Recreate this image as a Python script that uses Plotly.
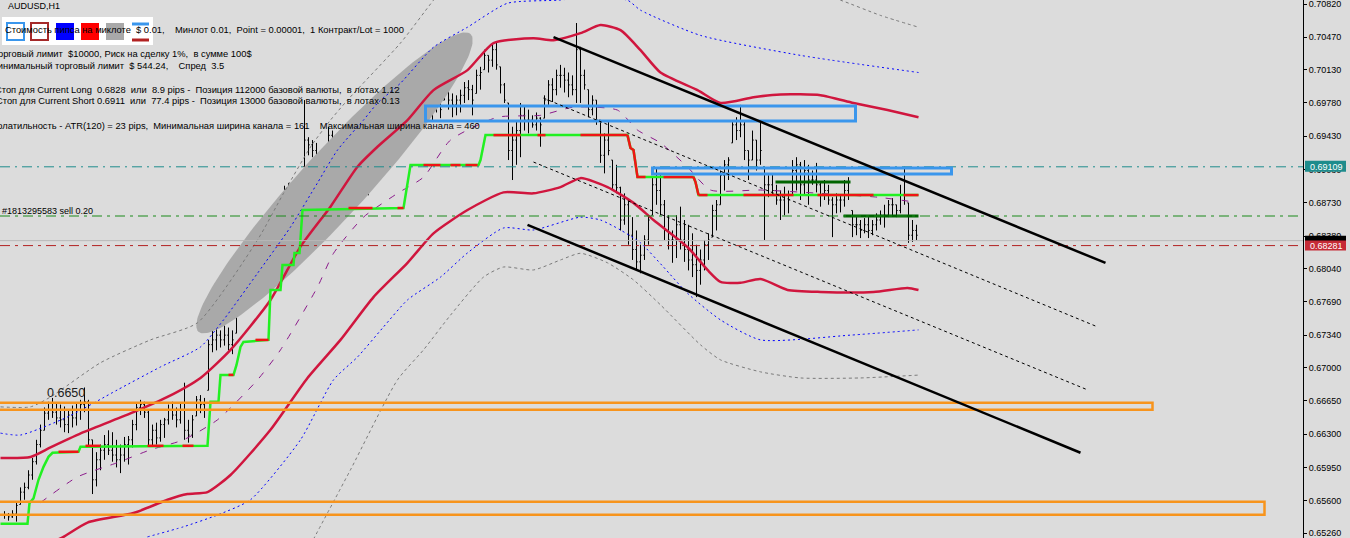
import numpy as np
import plotly.graph_objects as go

# ---------------- data ----------------
SYMBOL = "AUDUSD,H1"

BAR_HIGH = [
    0.6549, 0.6547, 0.6550, 0.6558, 0.6574, 0.6579, 0.6592, 0.6605, 0.6624, 0.6640,
    0.6658, 0.6664, 0.6668, 0.6663, 0.6661, 0.6659, 0.6655, 0.6660, 0.6662, 0.6666,
    0.6679, 0.6666, 0.6624, 0.6611, 0.6619, 0.6629, 0.6634, 0.6632, 0.6624, 0.6619,
    0.6627, 0.6628, 0.6645, 0.6663, 0.6666, 0.6664, 0.6655, 0.6640, 0.6642, 0.6645,
    0.6647, 0.6661, 0.6664, 0.6658, 0.6662, 0.6684, 0.6645, 0.6650, 0.6670, 0.6671,
    0.6668, 0.6729, 0.6739, 0.6742, 0.6739, 0.6744, 0.6742, 0.6739, 0.6778, 0.6797,
    0.6802, 0.6805, 0.6810, 0.6807, 0.6802, 0.6809, 0.6811, 0.6834, 0.6865, 0.6869,
    0.6891, 0.6894, 0.6895, 0.6897, 0.6896, 0.6981, 0.6942, 0.6939, 0.6936, 0.6904,
    0.6911, 0.6953, 0.6949, 0.6944, 0.6939, 0.6934, 0.6936, 0.6915, 0.6913, 0.6907,
    0.6902, 0.6910, 0.6934, 0.6981, 0.6955, 0.6949, 0.6953, 0.6947, 0.6952, 0.6965,
    0.6971, 0.7007, 0.7013, 0.7002, 0.6997, 0.6992, 0.6984, 0.6981, 0.6982, 0.6978,
    0.7002, 0.6994, 0.6988, 0.6986, 0.6992, 0.7000, 0.7002, 0.6997, 0.7013, 0.7016,
    0.7034, 0.7028, 0.7039, 0.7041, 0.7016, 0.6999, 0.6978, 0.6953, 0.6960, 0.6978,
    0.6974, 0.6971, 0.6965, 0.6968, 0.6963, 0.6986, 0.7002, 0.7004, 0.7013, 0.7018,
    0.7015, 0.7010, 0.7007, 0.7062, 0.7037, 0.7013, 0.6992, 0.6986, 0.6981, 0.6960,
    0.6946, 0.6960, 0.6918, 0.6913, 0.6890, 0.6883, 0.6876, 0.6858, 0.6844, 0.6829,
    0.6839, 0.6860, 0.6900, 0.6910, 0.6902, 0.6876, 0.6860, 0.6844, 0.6860, 0.6869,
    0.6855, 0.6850, 0.6841, 0.6829, 0.6824, 0.6834, 0.6841, 0.6871, 0.6876, 0.6907,
    0.6918, 0.6921, 0.6960, 0.6963, 0.6976, 0.6960, 0.6928, 0.6949, 0.6939, 0.6957,
    0.6911, 0.6902, 0.6904, 0.6892, 0.6886, 0.6890, 0.6886, 0.6918, 0.6921, 0.6916,
    0.6918, 0.6913, 0.6907, 0.6915, 0.6895, 0.6897, 0.6892, 0.6879, 0.6883, 0.6881,
    0.6897, 0.6900, 0.6865, 0.6858, 0.6855, 0.6857, 0.6858, 0.6855, 0.6862, 0.6865,
    0.6871, 0.6876, 0.6878, 0.6871, 0.6892, 0.6911, 0.6873, 0.6855, 0.6850,
]
BAR_LOW = [
    0.6541, 0.6539, 0.6542, 0.6538, 0.6556, 0.6561, 0.6572, 0.6582, 0.6598, 0.6616,
    0.6634, 0.6645, 0.6647, 0.6640, 0.6637, 0.6632, 0.6631, 0.6637, 0.6639, 0.6645,
    0.6653, 0.6617, 0.6567, 0.6575, 0.6592, 0.6603, 0.6608, 0.6601, 0.6595, 0.6589,
    0.6601, 0.6598, 0.6616, 0.6634, 0.6650, 0.6647, 0.6617, 0.6617, 0.6619, 0.6622,
    0.6626, 0.6640, 0.6645, 0.6637, 0.6641, 0.6624, 0.6621, 0.6626, 0.6649, 0.6652,
    0.6647, 0.6676, 0.6716, 0.6718, 0.6721, 0.6723, 0.6718, 0.6714, 0.6736, 0.6773,
    0.6779, 0.6784, 0.6788, 0.6781, 0.6775, 0.6789, 0.6790, 0.6792, 0.6834, 0.6844,
    0.6865, 0.6871, 0.6876, 0.6884, 0.6883, 0.6911, 0.6923, 0.6921, 0.6897, 0.6876,
    0.6855, 0.6897, 0.6928, 0.6923, 0.6918, 0.6915, 0.6911, 0.6894, 0.6892, 0.6886,
    0.6879, 0.6881, 0.6907, 0.6932, 0.6934, 0.6931, 0.6939, 0.6928, 0.6934, 0.6932,
    0.6944, 0.6965, 0.6971, 0.6960, 0.6953, 0.6955, 0.6965, 0.6960, 0.6968, 0.6962,
    0.6981, 0.6971, 0.6963, 0.6965, 0.6968, 0.6978, 0.6981, 0.6965, 0.6988, 0.6992,
    0.7013, 0.7010, 0.7016, 0.7013, 0.6988, 0.6978, 0.6918, 0.6897, 0.6913, 0.6921,
    0.6949, 0.6946, 0.6952, 0.6949, 0.6932, 0.6962, 0.6976, 0.6979, 0.6986, 0.6994,
    0.6989, 0.6984, 0.6986, 0.6978, 0.6978, 0.6992, 0.6963, 0.6965, 0.6955, 0.6915,
    0.6904, 0.6923, 0.6886, 0.6883, 0.6844, 0.6850, 0.6829, 0.6813, 0.6802, 0.6799,
    0.6813, 0.6829, 0.6860, 0.6871, 0.6860, 0.6834, 0.6824, 0.6810, 0.6815, 0.6824,
    0.6811, 0.6802, 0.6795, 0.6774, 0.6787, 0.6802, 0.6813, 0.6837, 0.6844, 0.6871,
    0.6886, 0.6897, 0.6936, 0.6939, 0.6942, 0.6918, 0.6897, 0.6918, 0.6907, 0.6913,
    0.6834, 0.6879, 0.6881, 0.6871, 0.6855, 0.6860, 0.6862, 0.6881, 0.6886, 0.6876,
    0.6881, 0.6871, 0.6892, 0.6884, 0.6869, 0.6876, 0.6871, 0.6837, 0.6862, 0.6863,
    0.6869, 0.6876, 0.6837, 0.6839, 0.6836, 0.6841, 0.6836, 0.6839, 0.6844, 0.6850,
    0.6847, 0.6858, 0.6860, 0.6858, 0.6862, 0.6871, 0.6831, 0.6832, 0.6834,
]
BAR_CLOSE = [
    0.6545, 0.6543, 0.6546, 0.6555, 0.6569, 0.6574, 0.6587, 0.6601, 0.6619, 0.6634,
    0.6652, 0.6655, 0.6653, 0.6647, 0.6645, 0.6640, 0.6650, 0.6647, 0.6655, 0.6661,
    0.6664, 0.6624, 0.6582, 0.6603, 0.6613, 0.6619, 0.6613, 0.6608, 0.6603, 0.6608,
    0.6619, 0.6624, 0.6640, 0.6658, 0.6661, 0.6653, 0.6624, 0.6634, 0.6626, 0.6640,
    0.6645, 0.6655, 0.6650, 0.6645, 0.6655, 0.6634, 0.6629, 0.6645, 0.6666, 0.6661,
    0.6655, 0.6724, 0.6729, 0.6734, 0.6729, 0.6734, 0.6724, 0.6729, 0.6773, 0.6787,
    0.6792, 0.6787, 0.6802, 0.6787, 0.6792, 0.6802, 0.6802, 0.6829, 0.6855, 0.6863,
    0.6884, 0.6881, 0.6892, 0.6892, 0.6889, 0.6939, 0.6934, 0.6928, 0.6902, 0.6886,
    0.6902, 0.6944, 0.6939, 0.6934, 0.6928, 0.6920, 0.6913, 0.6907, 0.6897, 0.6892,
    0.6886, 0.6902, 0.6928, 0.6949, 0.6944, 0.6939, 0.6944, 0.6939, 0.6944, 0.6960,
    0.6965, 0.6997, 0.6992, 0.6981, 0.6971, 0.6981, 0.6976, 0.6973, 0.6976, 0.6971,
    0.6992, 0.6981, 0.6976, 0.6981, 0.6986, 0.6994, 0.6992, 0.6981, 0.7007, 0.7010,
    0.7028, 0.7023, 0.7034, 0.7018, 0.6997, 0.6981, 0.6928, 0.6939, 0.6949, 0.6965,
    0.6960, 0.6960, 0.6955, 0.6962, 0.6955, 0.6981, 0.6997, 0.6992, 0.7007, 0.7007,
    0.7002, 0.6997, 0.6992, 0.7034, 0.7007, 0.6997, 0.6971, 0.6981, 0.6960, 0.6923,
    0.6939, 0.6928, 0.6892, 0.6889, 0.6855, 0.6871, 0.6839, 0.6824, 0.6811, 0.6818,
    0.6834, 0.6855, 0.6892, 0.6886, 0.6871, 0.6844, 0.6834, 0.6834, 0.6850, 0.6834,
    0.6824, 0.6813, 0.6808, 0.6802, 0.6813, 0.6829, 0.6834, 0.6865, 0.6871, 0.6902,
    0.6913, 0.6918, 0.6955, 0.6949, 0.6955, 0.6928, 0.6918, 0.6939, 0.6918, 0.6928,
    0.6892, 0.6892, 0.6886, 0.6876, 0.6876, 0.6881, 0.6876, 0.6907, 0.6913, 0.6892,
    0.6907, 0.6897, 0.6897, 0.6892, 0.6881, 0.6886, 0.6876, 0.6871, 0.6876, 0.6876,
    0.6886, 0.6881, 0.6850, 0.6850, 0.6844, 0.6850, 0.6844, 0.6850, 0.6855, 0.6860,
    0.6860, 0.6871, 0.6871, 0.6865, 0.6881, 0.6881, 0.6839, 0.6844, 0.6839,
]

# envelope / channel indicator lines (bar index, price)
UPPER_BAND_X = [-1, 6.5, 11.5, 19.75, 32.25, 40.75, 49, 56.5, 66.5, 74, 81.5, 88.25, 93.25, 100.75,
                107.25, 115.75, 122.25, 132.25, 137.25, 144, 149, 154, 159, 164, 173.25, 179,
                187.25, 194, 204, 212.25, 220.75, 228.5]
UPPER_BAND_Y = [0.6605, 0.6606, 0.6616, 0.6632, 0.6653, 0.6669, 0.6689, 0.67185, 0.6771, 0.6827,
                0.6869, 0.6911, 0.6932, 0.6960, 0.69915, 0.70125, 0.7041, 0.7046, 0.7044, 0.70514,
                0.70598, 0.70545, 0.70335, 0.7010, 0.69915, 0.6978, 0.6984, 0.6987, 0.69862,
                0.6978, 0.69705, 0.6963]
LOWER_BAND_X = [12.75, 14.75, 20.75, 32.25, 40.75, 45.75, 50.75, 56.5, 66.5, 75.75, 84, 92.25,
                100.75, 107.25, 115.75, 124.75, 132.25, 139, 144, 150.75, 157.25, 162.25, 170.75,
                175.75, 179, 184, 189, 195.75, 204, 217.25, 225.75, 228.5]
LOWER_BAND_Y = [0.6518, 0.6522, 0.6537, 0.6547, 0.6561, 0.6567, 0.6569, 0.6587, 0.66345, 0.6689,
                0.6729, 0.6774, 0.6810, 0.6841, 0.68655, 0.6884, 0.6883, 0.68896, 0.6899, 0.68896,
                0.6873, 0.6855, 0.68266, 0.68025, 0.6790, 0.6789, 0.6793, 0.67815, 0.67794,
                0.67794, 0.67836, 0.67815]
MID_LINE_X = [9, 18.25, 28.25, 36.5, 44.75, 53.25, 63.25, 69, 78.25, 82.25, 89.75, 98.25, 104.75,
              111.5, 123.25, 134, 142.25, 153.25, 158.25, 164, 170.75, 176.5, 189, 204, 218.25,
              227.25]
MID_LINE_Y = [0.6558, 0.6585, 0.6600, 0.66135, 0.6624, 0.6645, 0.6687, 0.67185, 0.67846, 0.6820,
              0.6858, 0.6883, 0.6900, 0.6939, 0.6963, 0.6965, 0.69736, 0.69705, 0.69495, 0.6936,
              0.69107, 0.68865, 0.68865, 0.6883, 0.6879, 0.6874]
OUTER_UP_X = [-1, 4, 15.75, 28.25, 39, 49, 54.75, 63.25, 71.5, 78.25, 83.25, 89.75, 93.25, 99,
              107.25, 115.75, 125.75, 138.25, 146.5, 155.75, 159, 174, 199, 228.5]
OUTER_UP_Y = [0.6631, 0.6629, 0.6648, 0.66765, 0.67006, 0.67216, 0.6750, 0.6799, 0.68476, 0.6894,
              0.69285, 0.6960, 0.69778, 0.69988, 0.70366, 0.70576, 0.70828, 0.7086, 0.7089,
              0.7086, 0.70755, 0.7049, 0.7028, 0.7010]
OUTER_LOW_X = [35.75, 44.75, 53.25, 61.5, 74, 82.25, 88.25, 94.75, 100.75, 109, 115.75, 124.75,
               132.25, 144, 149, 154, 159, 164.75, 170.75, 179, 189, 211.5, 228.5]
OUTER_LOW_Y = [0.6522, 0.65326, 0.6545, 0.6561, 0.6624, 0.6687, 0.6711, 0.67426, 0.6771, 0.6795,
               0.68204, 0.68466, 0.68445, 0.6858, 0.6855, 0.68445, 0.6831, 0.68056, 0.6778,
               0.6750, 0.6729, 0.6734, 0.67395]
FAR_UP_X = [-1, 6.5, 11.5, 24, 36.5, 48.25, 63.25, 69.75, 76.5, 81.5, 85.75, 99, 107.25, 111.5,
            199, 209, 219, 228.5]
FAR_UP_Y = [0.66586, 0.66586, 0.6669, 0.6705, 0.6729, 0.6747, 0.6834, 0.6883, 0.69317, 0.6960,
            0.6981, 0.7041, 0.7086, 0.7107, 0.70986, 0.7086, 0.7070, 0.70576]
FAR_LOW_X = [76.5, 86.5, 98.25, 104.75, 111.5, 119.75, 124.75, 132.25, 139, 144, 150.75, 157.25,
             164, 174, 179, 189, 199, 214, 228.5]
FAR_LOW_Y = [0.65137, 0.65925, 0.6687, 0.67185, 0.6755, 0.6795, 0.68056, 0.68025, 0.6813, 0.6820,
             0.6810, 0.6792, 0.67658, 0.67238, 0.6708, 0.66954, 0.6689, 0.6689, 0.6692]

# trailing stop (green) and its red sections
STOP_X = [-1, 5.75, 6.25, 7.25, 8.5, 9.75, 11, 12, 18.5, 19, 50.75, 51.25, 51.5, 53.5, 54, 57.25,
          58, 59, 59.75, 66, 66.5, 69, 69.5, 72.25, 72.5, 73.75, 74.5, 99.75, 101.5, 118.5, 119,
          120.25, 155.75, 156.5, 157.25, 158.25, 172.25, 172.75, 173.5, 228.5]
STOP_Y = [0.65358, 0.65358, 0.65575, 0.65625, 0.6582, 0.65956, 0.66061, 0.66103, 0.66114, 0.66166,
          0.66177, 0.6645, 0.66639, 0.66639, 0.66922, 0.66922, 0.67027, 0.67216, 0.67269, 0.6729,
          0.67815, 0.67815, 0.68077, 0.68077, 0.68203, 0.68203, 0.68655, 0.68676, 0.69127,
          0.69127, 0.6918, 0.69442, 0.69442, 0.69306, 0.69285, 0.69001, 0.69001, 0.68949,
          0.68812, 0.68812]
RED_STOP_X0 = [13.5, 20.25, 35.75, 44.5, 56, 62.75, 86, 98.25, 104.75, 111.5, 115.25, 122.25,
               133.25, 144, 164.75, 173.5, 184.75, 203.25, 224.75]
RED_STOP_X1 = [18.5, 24, 39.75, 47.25, 57.25, 66, 92, 99.75, 109, 114, 118.25, 129, 135.25,
               155.75, 172.25, 175.75, 197.25, 217.25, 228.5]
RED_STOP_LEVEL = [0.66114, 0.66177, 0.66177, 0.66177, 0.66922, 0.6729, 0.68676, 0.68676, 0.69127,
                  0.69127, 0.69127, 0.69442, 0.69442, 0.69442, 0.69001, 0.68812, 0.68812,
                  0.68812, 0.68812]
RED_DROP_1_X = [155.75, 156.5, 157.25, 158.25, 160.25]
RED_DROP_1_Y = [0.69442, 0.69306, 0.69285, 0.69001, 0.69001]
RED_DROP_2_X = [172.25, 172.75, 173.5]
RED_DROP_2_Y = [0.69001, 0.68949, 0.68812]

SR_X0 = [192.75, 209.75]
SR_X1 = [211.5, 228.5]
SR_LEVEL = [0.68949, 0.68592]

# horizontal price levels
LEVEL_RESIST = 0.69109
LEVEL_ORDER = 0.68592
LEVEL_ASK = 0.68281
LEVEL_BID = 0.68333
ORDER_TEXT = "#1813295583 sell 0.20"

# channel lines: (x0, y0, x1, y1)
CHANNEL_SOLID = [(137.25, 0.70472, 275.25, 0.68099), (130.75, 0.68498, 269, 0.66104)]
CHANNEL_DASHED = [(134.75, 0.69831, 273.25, 0.67427), (132.25, 0.69159, 270.75, 0.66765)]

# zones: (x0, x1, y_low, y_high)
BLUE_ZONES = [(105.25, 212.75, 0.69590, 0.69747), (162, 236.75, 0.69033, 0.69096)]
ORANGE_ZONES = [(-3, 287, 0.66555, 0.66629), (-3, 315, 0.65452, 0.65589)]

# gray ellipse object: two ends of major axis (bar, price)
ELLIPSE_A = (48.5, 0.67375)
ELLIPSE_B = (116.5, 0.70505)

TICK_VALUES = [0.70820, 0.70470, 0.70130, 0.69780, 0.69430, 0.69080, 0.68730, 0.68380, 0.68040,
               0.67690, 0.67340, 0.67000, 0.66650, 0.66300, 0.65950, 0.65600, 0.65260]
TICK_TEXT = ["0.70820", "0.70470", "0.70130", "0.69780", "0.69430", "0.69080", "0.68730",
             "0.68380", "0.68040", "0.67690", "0.67340", "0.67000", "0.66650", "0.66300",
             "0.65950", "0.65600", "0.65260"]

INFO_LINES = [
    "Стоимость пипса на миклоте  $ 0.01,    Минлот 0.01,  Point = 0.00001,  1 Контракт/Lot = 1000",
    "Торговый лимит  $10000, Риск на сделку 1%,  в сумме 100$",
    "Минимальный торговый лимит  $ 544.24,    Спред  3.5",
    "Стоп для Current Long  0.6828  или  8.9 pips -  Позиция 112000 базовой валюты,  в лотах 1.12",
    "Стоп для Current Short 0.6911  или  77.4 pips -  Позиция 13000 базовой валюты,  в лотах 0.13",
    "Волатильность - ATR(120) = 23 pips,  Минимальная ширина канала = 161    Максимальная ширина канала = 460",
]
PRICE_NOTE = "0.6650"

# ---------------- layout geometry ----------------
W, H = 1350, 538
PLOT_W, PLOT_H = 1303, 538
X_RANGE = [-1.125, 324.625]
Y_RANGE = [0.65208, 0.70862]
FONT = "Liberation Sans"
BG = "#DCDCDC"


def to_px(i, p):
    return ((i - X_RANGE[0]) / (X_RANGE[1] - X_RANGE[0]) * PLOT_W,
            (Y_RANGE[1] - p) / (Y_RANGE[1] - Y_RANGE[0]) * PLOT_H)


def to_data(px, py):
    return (X_RANGE[0] + px / PLOT_W * (X_RANGE[1] - X_RANGE[0]),
            Y_RANGE[1] - py / PLOT_H * (Y_RANGE[1] - Y_RANGE[0]))


def xp(px):
    return px / PLOT_W


def yp(py):
    return 1 - py / PLOT_H


fig = go.Figure()

# ellipse (background object)
ax_, ay_ = to_px(*ELLIPSE_A)
bx_, by_ = to_px(*ELLIPSE_B)
cx, cy = (ax_ + bx_) / 2, (ay_ + by_) / 2
semi_a = np.hypot(bx_ - ax_, by_ - ay_) / 2
semi_b = 33
th = np.arctan2(by_ - ay_, bx_ - ax_)
t = np.linspace(0, 2 * np.pi, 160)
ex = cx + semi_a * np.cos(t) * np.cos(th) - semi_b * np.sin(t) * np.sin(th)
ey = cy + semi_a * np.cos(t) * np.sin(th) + semi_b * np.sin(t) * np.cos(th)
ed = [to_data(a, b) for a, b in zip(ex, ey)]
fig.add_trace(go.Scatter(x=[d[0] for d in ed], y=[d[1] for d in ed], mode="lines",
                         fill="toself", fillcolor="#A9A9A9", line=dict(width=0, color="#A9A9A9"),
                         hoverinfo="skip"))


def add_line(x, y, color, width, dash="solid", shape="spline"):
    fig.add_trace(go.Scatter(x=x, y=y, mode="lines", hoverinfo="skip",
                             line=dict(color=color, width=width, dash=dash, shape=shape,
                                       smoothing=0.6 if shape == "spline" else None)))


add_line(FAR_UP_X, FAR_UP_Y, "#7A7A7A", 1, "3px,3px")
add_line(FAR_LOW_X, FAR_LOW_Y, "#7A7A7A", 1, "3px,3px")
add_line(OUTER_UP_X, OUTER_UP_Y, "#0000FF", 1, "2px,3px")
add_line(OUTER_LOW_X, OUTER_LOW_Y, "#0000FF", 1, "2px,3px")
add_line(MID_LINE_X, MID_LINE_Y, "#8B1A8B", 1, "7px,9px")
add_line(UPPER_BAND_X, UPPER_BAND_Y, "#D0163E", 2.5)
add_line(LOWER_BAND_X, LOWER_BAND_Y, "#D0163E", 2.5)

# trailing stop
add_line(STOP_X, STOP_Y, "#22F022", 2.5, shape="linear")
rx, ry = [], []
for a, b, lv in zip(RED_STOP_X0, RED_STOP_X1, RED_STOP_LEVEL):
    rx += [a, b, None]
    ry += [lv, lv, None]
rx += RED_DROP_1_X + [None] + RED_DROP_2_X
ry += RED_DROP_1_Y + [None] + RED_DROP_2_Y
fig.add_trace(go.Scatter(x=rx, y=ry, mode="lines", hoverinfo="skip",
                         line=dict(color="#F01414", width=2.5)))

# bars
opens = [BAR_CLOSE[0]] + [min(max(BAR_CLOSE[k - 1], BAR_LOW[k]), BAR_HIGH[k])
                          for k in range(1, len(BAR_CLOSE))]
fig.add_trace(go.Ohlc(x=list(range(len(BAR_CLOSE))), open=opens, high=BAR_HIGH, low=BAR_LOW,
                      close=BAR_CLOSE, tickwidth=0.3, hoverinfo="skip",
                      increasing=dict(line=dict(color="black", width=1)),
                      decreasing=dict(line=dict(color="black", width=1))))

# support/resistance segments
sx, sy = [], []
for a, b, lv in zip(SR_X0, SR_X1, SR_LEVEL):
    sx += [a, b, None]
    sy += [lv, lv, None]
fig.add_trace(go.Scatter(x=sx, y=sy, mode="lines", hoverinfo="skip",
                         line=dict(color="#006400", width=3)))

shapes = []
# horizontal levels
shapes.append(dict(type="line", xref="paper", x0=0, x1=1, yref="y", y0=LEVEL_BID, y1=LEVEL_BID,
                   line=dict(color="#B8B8B8", width=1)))
shapes.append(dict(type="line", xref="paper", x0=0, x1=1, yref="y", y0=LEVEL_RESIST, y1=LEVEL_RESIST,
                   line=dict(color="#1E8C8C", width=1, dash="10px,5px,2px,5px")))
shapes.append(dict(type="line", xref="paper", x0=0, x1=1, yref="y", y0=LEVEL_ORDER, y1=LEVEL_ORDER,
                   line=dict(color="#1A8A1A", width=1, dash="10px,5px,3px,5px")))
shapes.append(dict(type="line", xref="paper", x0=0, x1=1, yref="y", y0=LEVEL_ASK, y1=LEVEL_ASK,
                   line=dict(color="#B22222", width=1, dash="10px,5px,3px,5px")))
# zones
for x0, x1, lo, hi in BLUE_ZONES:
    shapes.append(dict(type="rect", xref="x", yref="y", x0=x0, x1=x1, y0=lo, y1=hi,
                       line=dict(color="#3A96EC", width=3)))
for x0, x1, lo, hi in ORANGE_ZONES:
    shapes.append(dict(type="rect", xref="x", yref="y", x0=x0, x1=x1, y0=lo, y1=hi,
                       line=dict(color="#F7941D", width=2.5)))
# channel lines
for x0, y0, x1, y1 in CHANNEL_SOLID:
    shapes.append(dict(type="line", xref="x", yref="y", x0=x0, y0=y0, x1=x1, y1=y1,
                       line=dict(color="black", width=2.5)))
for x0, y0, x1, y1 in CHANNEL_DASHED:
    shapes.append(dict(type="line", xref="x", yref="y", x0=x0, y0=y0, x1=x1, y1=y1,
                       line=dict(color="black", width=1, dash="3px,3px")))

# legend swatches (top-left object panel)
shapes.append(dict(type="rect", xref="paper", yref="paper", x0=xp(2), x1=xp(153), y0=yp(45), y1=yp(17),
                   fillcolor="white", line=dict(width=0)))
shapes.append(dict(type="rect", xref="paper", yref="paper", x0=xp(7), x1=xp(24), y0=yp(40), y1=yp(23),
                   line=dict(color="#3A96EC", width=2)))
shapes.append(dict(type="rect", xref="paper", yref="paper", x0=xp(31), x1=xp(48), y0=yp(40), y1=yp(23),
                   line=dict(color="#A52A2A", width=2)))
shapes.append(dict(type="rect", xref="paper", yref="paper", x0=xp(56), x1=xp(74), y0=yp(40), y1=yp(23),
                   fillcolor="#0000FF", line=dict(width=0)))
shapes.append(dict(type="rect", xref="paper", yref="paper", x0=xp(81), x1=xp(99), y0=yp(40), y1=yp(23),
                   fillcolor="#FF0000", line=dict(width=0)))
shapes.append(dict(type="rect", xref="paper", yref="paper", x0=xp(106), x1=xp(124), y0=yp(40), y1=yp(23),
                   fillcolor="#A9A9A9", line=dict(width=0)))
shapes.append(dict(type="line", xref="paper", yref="paper", x0=xp(132), x1=xp(149), y0=yp(24), y1=yp(24),
                   line=dict(color="#3A96EC", width=3)))
shapes.append(dict(type="line", xref="paper", yref="paper", x0=xp(132), x1=xp(149), y0=yp(40), y1=yp(40),
                   line=dict(color="#B22222", width=3)))

# price labels on axis
shapes.append(dict(type="rect", xref="paper", yref="paper", x0=xp(1305), x1=xp(1346),
                   y0=yp(to_px(0, LEVEL_RESIST)[1] + 5), y1=yp(to_px(0, LEVEL_RESIST)[1] - 6),
                   fillcolor="#1E8C8C", line=dict(width=0)))
shapes.append(dict(type="rect", xref="paper", yref="paper", x0=xp(1305), x1=xp(1346),
                   y0=yp(to_px(0, LEVEL_BID)[1] + 6), y1=yp(to_px(0, LEVEL_BID)[1] - 5),
                   fillcolor="#000000", line=dict(width=0)))
shapes.append(dict(type="rect", xref="paper", yref="paper", x0=xp(1305), x1=xp(1346),
                   y0=yp(to_px(0, LEVEL_ASK)[1] + 5), y1=yp(to_px(0, LEVEL_ASK)[1] - 5),
                   fillcolor="#C62B36", line=dict(width=0)))

annotations = []


def text(s, px, py, size=9, anchor="left", color="black"):
    annotations.append(dict(text=s, x=xp(px), y=yp(py), xref="paper", yref="paper",
                            xanchor=anchor, yanchor="middle", showarrow=False,
                            font=dict(family=FONT, size=size, color=color)))


text(SYMBOL, 6, 6)
line_pos = [(406, 30), (254, 54), (226, 66), (402, 90), (402, 101), (482, 126)]
for s, (px, py) in zip(INFO_LINES, line_pos):
    text(s, px, py, size=9.35, anchor="right")
text(ORDER_TEXT, 0, 211)
text(PRICE_NOTE, 45, 393, size=12.5, color="#202020")
text(f"{LEVEL_RESIST:.5f}", 1308, to_px(0, LEVEL_RESIST)[1], color="white")
text(f"{LEVEL_ASK:.5f}", 1308, to_px(0, LEVEL_ASK)[1], color="white")

fig.update_layout(
    width=W, height=H, margin=dict(l=0, r=W - PLOT_W, t=0, b=0),
    paper_bgcolor=BG, plot_bgcolor=BG, showlegend=False, hovermode=False,
    shapes=shapes, annotations=annotations,
    font=dict(family=FONT, size=9, color="black"),
    xaxis=dict(range=X_RANGE, visible=False, rangeslider=dict(visible=False), fixedrange=True),
    yaxis=dict(range=Y_RANGE, side="right", tickvals=TICK_VALUES, ticktext=TICK_TEXT,
               showgrid=False, zeroline=False, showline=True, linecolor="black", linewidth=1,
               ticks="outside", ticklen=3, tickcolor="black", ticklabeloverflow="allow",
               tickfont=dict(family=FONT, size=9, color="black"), fixedrange=True),
)

fig.write_html("out.html", config={"displayModeBar": False},
               post_script="document.body.style.margin='0';document.body.style.overflow='hidden';")
